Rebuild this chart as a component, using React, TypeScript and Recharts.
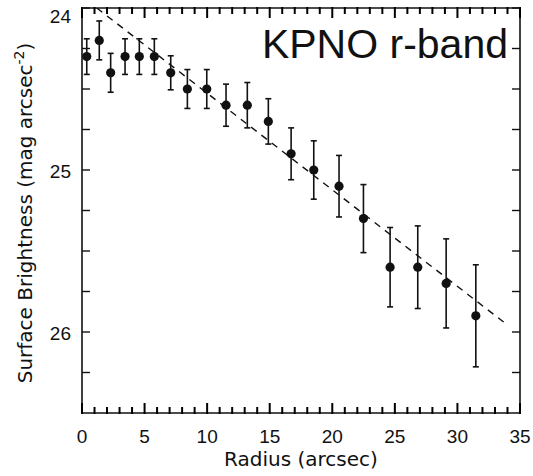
import React from 'react';
import { ComposedChart, Scatter, Line, XAxis, YAxis, ErrorBar, Customized } from 'recharts';

const radius = [0.38, 1.38, 2.29, 3.44, 4.58, 5.78, 7.09, 8.42, 9.97, 11.51, 13.21, 14.89, 16.71, 18.52, 20.54, 22.49, 24.62, 26.83, 29.1, 31.47];
const brightness = [24.3, 24.2, 24.4, 24.3, 24.3, 24.3, 24.4, 24.5, 24.5, 24.6, 24.6, 24.7, 24.9, 25.0, 25.1, 25.3, 25.6, 25.6, 25.7, 25.9];
const errors = [0.11, 0.12, 0.12, 0.11, 0.11, 0.11, 0.105, 0.12, 0.12, 0.13, 0.14, 0.14, 0.16, 0.18, 0.19, 0.21, 0.245, 0.255, 0.275, 0.315];

const fitRadius = [1.18, 33.8];
const fitBrightness = [24.0, 25.945];

const xTicks = Array.from({ length: 36 }, (_, i) => i);
const yTicks = [24, 24.25, 24.5, 24.75, 25, 25.25, 25.5, 25.75, 26, 26.25];
const xLabelTicks = [0, 5, 10, 15, 20, 25, 30, 35];
const yLabelTicks = [24, 25, 26];

const title = 'KPNO r-band';
const xTitle = 'Radius (arcsec)';
const yTitle = 'Surface Brightness (mag arcsec';
const yTitleSup = '-2';

const points = radius.map((r, i) => ({ r, mu: brightness[i], err: errors[i] }));
const fit = fitRadius.map((r, i) => ({ r, mu: fitBrightness[i] }));

const INK = '#111';
const FONT = '"Liberation Sans", Arial, sans-serif';
const FONT2 = '"DejaVu Sans", sans-serif';

const BottomTick = (props: any) => {
  const { x, y, payload } = props;
  const v = payload.value;
  const major = xLabelTicks.includes(v);
  const len = major ? 10 : 6;
  return (
    <g>
      <line x1={x} x2={x} y1={y - len} y2={y + 1} stroke="#000" strokeWidth={2} />
      {major && (
        <text x={x} y={y + 30} textAnchor="middle" fontFamily={FONT} fontSize={19} fill={INK}>
          {v}
        </text>
      )}
    </g>
  );
};

const TopTick = (props: any) => {
  const { x, y, payload } = props;
  const major = xLabelTicks.includes(payload.value);
  const len = major ? 10 : 6;
  return <line x1={x} x2={x} y1={y - 1} y2={y + len} stroke="#000" strokeWidth={2} />;
};

const LeftTick = (props: any) => {
  const { x, y, payload } = props;
  const v = payload.value;
  const major = yLabelTicks.includes(v);
  return (
    <g>
      <path d={`M${x},${y}L${x + 8},${y}`} stroke={INK} strokeWidth={1.4} fill="none" />
      {major && (
        <text x={x - 11} y={y + (v === 24 ? 15 : 8)} textAnchor="end" fontFamily={FONT} fontSize={19} fill={INK}>
          {v}
        </text>
      )}
    </g>
  );
};

const RightTick = (props: any) => {
  const { x, y } = props;
  return <path d={`M${x},${y}L${x - 8},${y}`} stroke={INK} strokeWidth={1.4} fill="none" />;
};

const Dot = (props: any) => {
  const { cx, cy } = props;
  return <circle cx={cx} cy={cy} r={4.6} fill={INK} />;
};

const Texts = () => (
  <g>
    <text x={508} y={58} textAnchor="end" fontFamily={FONT} fontSize={41} fill={INK}>
      {title}
    </text>
    <text x={301} y={466} textAnchor="middle" fontFamily={FONT2} fontSize={20} fill={INK}>
      {xTitle}
    </text>
    <text
      x={0}
      y={0}
      transform="translate(32, 213) rotate(-90)"
      textAnchor="middle"
      fontFamily={FONT2}
      fontSize={20}
      fill={INK}
    >
      {yTitle}
      <tspan dy={-8} fontSize={14}>{yTitleSup}</tspan>
      <tspan dy={8}>)</tspan>
    </text>
  </g>
);

export default function App() {
  return (
    <div style={{ position: 'absolute', left: 0, top: 0, background: '#fff' }}>
      <ComposedChart
        width={533}
        height={476}
        margin={{ top: 7, left: 81, right: 12, bottom: 62 }}
        style={{ background: '#fff' }}
      >
        <XAxis
          dataKey="r"
          type="number"
          domain={[0, 35]}
          ticks={xTicks}
          interval={0}
          height={1}
          tickSize={0}
          tickMargin={0}
          tickLine={false}
          tick={<BottomTick />}
          axisLine={{ stroke: INK, strokeWidth: 1.6 }}
          allowDataOverflow
        />
        <XAxis
          xAxisId="top"
          orientation="top"
          dataKey="r"
          type="number"
          domain={[0, 35]}
          ticks={xTicks}
          interval={0}
          height={1}
          tickSize={0}
          tickMargin={0}
          tickLine={false}
          tick={<TopTick />}
          axisLine={{ stroke: INK, strokeWidth: 1.6 }}
          allowDataOverflow
        />
        <YAxis
          dataKey="mu"
          type="number"
          domain={[24, 26.5]}
          reversed
          ticks={yTicks}
          interval={0}
          width={1}
          tickSize={0}
          tickMargin={0}
          tickLine={false}
          tick={<LeftTick />}
          axisLine={{ stroke: INK, strokeWidth: 1.6 }}
          allowDataOverflow
        />
        <YAxis
          yAxisId="right"
          orientation="right"
          type="number"
          domain={[24, 26.5]}
          reversed
          ticks={yTicks}
          interval={0}
          width={1}
          tickSize={0}
          tickMargin={0}
          tickLine={false}
          tick={<RightTick />}
          axisLine={{ stroke: INK, strokeWidth: 1.6 }}
          allowDataOverflow
        />
        <Line
          data={fit}
          dataKey="mu"
          type="linear"
          stroke={INK}
          strokeWidth={1.4}
          strokeDasharray="7 6"
          dot={false}
          activeDot={false}
          isAnimationActive={false}
        />
        <Scatter data={points} dataKey="mu" shape={<Dot />} isAnimationActive={false}>
          <ErrorBar dataKey="err" direction="y" width={3} stroke={INK} strokeWidth={1.6} />
        </Scatter>
        <Customized component={Texts} />
      </ComposedChart>
    </div>
  );
}
